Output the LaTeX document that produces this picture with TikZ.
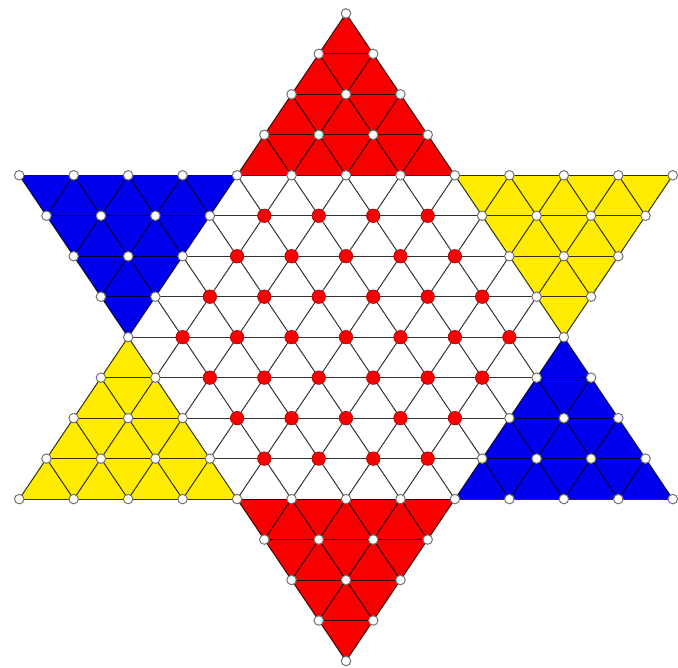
\documentclass[tikz,border=0pt]{standalone}
\usepackage{tikz}
\definecolor{boardred}{RGB}{248,0,0}
\definecolor{boardblue}{RGB}{0,0,238}
\definecolor{boardyellow}{RGB}{255,236,0}

\begin{document}
\begin{tikzpicture}[x=1pt,y=1pt,
  hole/.style={circle,draw=black!55,fill=white,line width=1pt,inner sep=0pt,minimum size=9.5pt},
  peg/.style={circle,draw=red!65!black,fill=boardred,line width=.6pt,inner sep=0pt,minimum size=13.5pt},
  gridline/.style={line width=1pt,black,opacity=.8}]
\useasboundingbox (0,0) rectangle (678,668);
\begin{scope}[shift={(346,330.8)},xscale=27.24,yscale=23.42]
\foreach \p in {-8,...,8} {
  \pgfmathtruncatemacro\m{abs(\p)<5 ? 8+abs(\p) : 8-abs(\p)}
  \foreach \i in {0,...,\m} {
    \pgfmathtruncatemacro\k{2*\i-\m}
    \coordinate (c-\k-\p) at (\k,\p*1.7320508);
  }
}
\foreach \u/\v/\w/\col in {c-0-8/c--4-4/c-4-4/boardred,
    c--12-4/c--4-4/c--8-0/boardblue,
    c--8-0/c--12--4/c--4--4/boardyellow,
    c--4--4/c-4--4/c-0--8/boardred,
    c-8-0/c-4--4/c-12--4/boardblue,
    c-4-4/c-12-4/c-8-0/boardyellow}
  \fill[\col] (\u) -- (\v) -- (\w) -- cycle;
\foreach \p in {-7,...,7} {
  \pgfmathtruncatemacro\m{abs(\p)<5 ? 8+abs(\p) : 8-abs(\p)}
  \draw[gridline] (c--\m-\p) -- (c-\m-\p);
  \pgfmathtruncatemacro\ka{(-\m-3*(\p))/2}
  \pgfmathtruncatemacro\pa{(-\m+\p)/2}
  \pgfmathtruncatemacro\kb{(\m-3*(\p))/2}
  \pgfmathtruncatemacro\pb{(\m+\p)/2}
  \draw[gridline] (c-\ka-\pa) -- (c-\kb-\pb);
  \pgfmathtruncatemacro\pa{(-\m-\p)/2}
  \pgfmathtruncatemacro\pb{(\m-\p)/2}
  \draw[gridline] (c-\kb-\pa) -- (c-\ka-\pb);
}
\foreach \p in {-8,...,8} {
  \pgfmathtruncatemacro\m{abs(\p)<5 ? 8+abs(\p) : 8-abs(\p)}
  \foreach \i in {0,...,\m} {
    \pgfmathtruncatemacro\k{2*\i-\m}
    \pgfmathtruncatemacro\inner{and(abs(\p)<4,abs(\k)<7-abs(\p))}
    \ifnum\inner=1
      \node[peg] (h-\k-\p) at (c-\k-\p) {};
    \else
      \node[hole] (h-\k-\p) at (c-\k-\p) {};
    \fi
  }
}
\end{scope}
\end{tikzpicture}
\end{document}
